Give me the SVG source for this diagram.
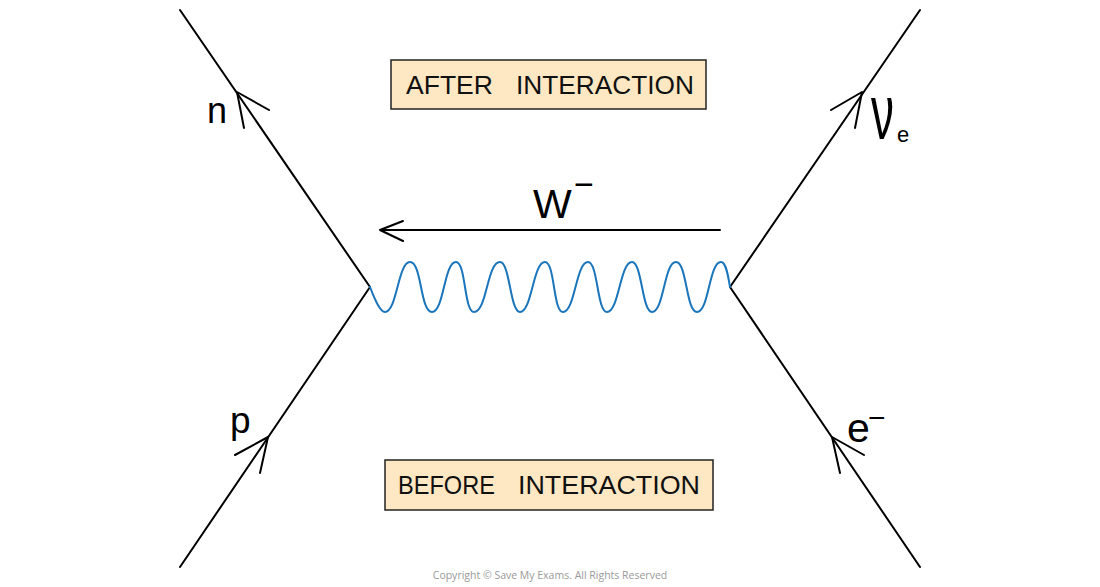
<svg xmlns="http://www.w3.org/2000/svg" width="1100" height="587" viewBox="0 0 1100 587">
<style>
.ln{fill:none;stroke:#000;stroke-width:2;stroke-linecap:round;stroke-linejoin:round}
.box{fill:#fde8c3;stroke:#222;stroke-width:1.5}
.bt{font-family:"Liberation Sans",Arial,sans-serif;font-size:26px;fill:#111}
.lbl{font-family:"Liberation Sans",Arial,sans-serif;fill:#000}
.wave{fill:none;stroke:#1b75bb;stroke-width:2;stroke-linecap:round}
</style>
<rect width="1100" height="587" fill="#fff"/>
<g id="connectors">
  <path class="ln" d="M180,10 L370,287 L180,567"/>
  <path class="ln" d="M920,10 L730,287 L920,567"/>
  <path class="ln" d="M269,110 L237,92 L244,128"/>
  <path class="ln" d="M831,110 L862,92 L855,128"/>
  <path class="ln" d="M235,455 L268,437 L260,473"/>
  <path class="ln" d="M864,455 L832,437 L840,473"/>
  <path class="wave" d="M370,287 C375,300 380,312 385,312 C397,312 398,262 410,262 C422,262 420,312 432,312 C444,312 444,262 456,262 C466,262 464,312 474,312 C487,312 487,262 500,262 C510,262 510,312 520,312 C532,312 533,262 545,262 C555,262 553,312 563,312 C575,312 576,262 588,262 C598,262 597,312 607,312 C619,312 620,262 632,262 C642,262 642,312 652,312 C664,312 664,262 676,262 C687,262 686,312 697,312 C709,312 709,262 721,262 C726,262 728,275 730,287"/>
  <path class="ln" d="M720,230 L380,230 M403,221 L380,230 L403,241"/>
</g>
<g id="after">
  <rect class="box" x="391" y="60" width="315" height="49"/>
  <text class="bt" y="94"><tspan x="406" textLength="87" lengthAdjust="spacingAndGlyphs">AFTER</tspan><tspan x="516" textLength="178" lengthAdjust="spacingAndGlyphs">INTERACTION</tspan></text>
</g>
<g id="before">
  <rect class="box" x="385" y="460" width="328" height="50"/>
  <text class="bt" y="494"><tspan x="398" textLength="97" lengthAdjust="spacingAndGlyphs">BEFORE</tspan><tspan x="518" textLength="182" lengthAdjust="spacingAndGlyphs">INTERACTION</tspan></text>
</g>
<g id="labels">
  <text class="lbl" x="207" y="123" font-size="36">n</text>
  <text class="lbl" x="230" y="433" font-size="37">p</text>
  <text class="lbl" x="533" y="218" font-size="41">W<tspan x="574" y="196" font-size="34">−</tspan></text>
  <text class="lbl" x="847" y="442" font-size="41">e<tspan x="868" y="428" font-size="30">−</tspan></text>
  <text class="lbl" transform="translate(871,139) scale(1,1.7)" font-size="46">ν</text>
  <text class="lbl" x="897" y="142" font-size="22">e</text>
</g>
<text x="550" y="579" text-anchor="middle" font-family="'Open Sans','Liberation Sans',sans-serif" font-size="10.5" fill="#999">Copyright © Save My Exams. All Rights Reserved</text>
</svg>
